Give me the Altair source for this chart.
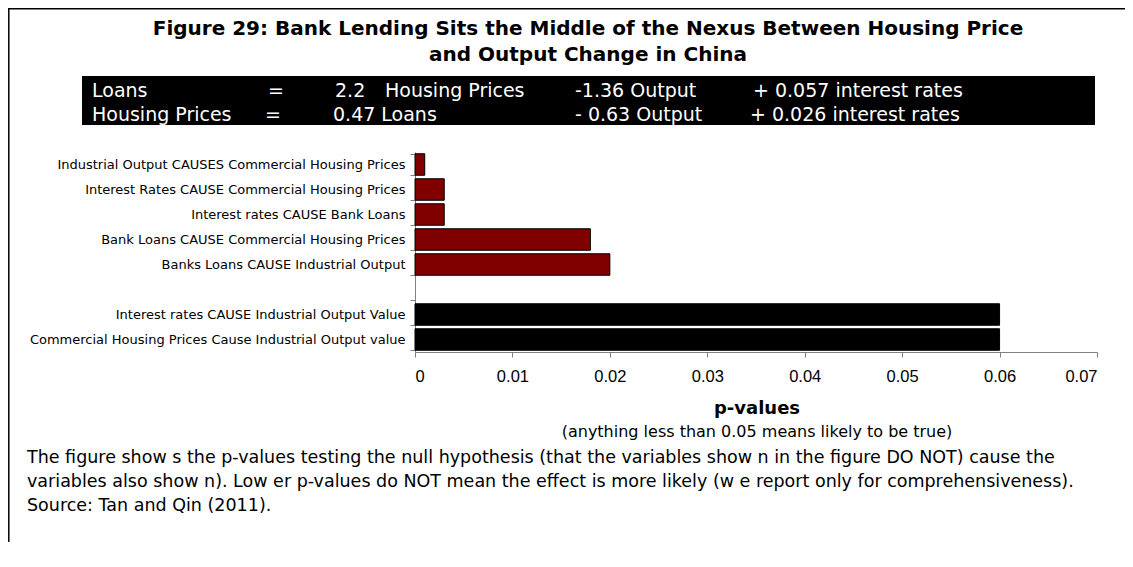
import altair as alt
import pandas as pd

FONT = "DejaVu Sans"
TICK_FONT = "Liberation Sans"

# ---- data ----
categories = [
    "Industrial Output CAUSES Commercial Housing Prices",
    "Interest Rates CAUSE Commercial Housing Prices",
    "Interest rates CAUSE Bank Loans",
    "Bank Loans CAUSE Commercial Housing Prices",
    "Banks Loans CAUSE Industrial Output",
    "Interest rates CAUSE Industrial Output Value",
    "Commercial Housing Prices Cause Industrial Output value",
]
p_values = [0.001, 0.003, 0.003, 0.018, 0.020, 0.060, 0.060]
groups = ["significant"] * 5 + ["not significant"] * 2
axis_order = categories[:5] + [""] + categories[5:]
x_ticks = [0, 0.01, 0.02, 0.03, 0.04, 0.05, 0.06, 0.07]

title_lines = [
    "Figure 29: Bank Lending Sits the Middle of the Nexus Between Housing Price",
    "and Output Change in China",
]
eq_row1 = ["Loans", "=", "2.2", "Housing Prices", "-1.36 Output", "+ 0.057 interest rates"]
eq_row2 = ["Housing Prices", "=", "0.47 Loans", "", "- 0.63 Output", "+ 0.026 interest rates"]
x_title = "p-values"
x_subtitle = "(anything less than 0.05 means likely to be true)"
footer_lines = [
    "The figure show s the p-values testing the null hypothesis (that the variables show n in the figure DO NOT) cause the",
    "variables also show n).  Low er p-values do NOT mean the effect is more likely (w e report only for comprehensiveness).",
    "Source: Tan and Qin (2011).",
]

df = pd.DataFrame({"cat": categories, "p": p_values, "group": groups})

# ---- layout (page px -> plot coords) ----
PL, PT = 407, 144
W, H = 682, 200
TOTAL_W = 1117
PB = 190


def X(px):
    return px - 8 - PL


def Y(py):
    return py - 8 - PT


one = alt.Data(values=[{"a": 1}])


def text_layer(s, px, py, size, weight="normal", align="left", color="black", font=FONT):
    return alt.Chart(one).mark_text(
        text=s, align=align, baseline="alphabetic", fontSize=size,
        fontWeight=weight, font=font, color=color
    ).encode(x=alt.value(X(px)), y=alt.value(Y(py)))


bars = alt.Chart(df).mark_bar(stroke="black", strokeWidth=1).encode(
    x=alt.X(
        "p:Q",
        scale=alt.Scale(domain=[0, 0.07], nice=False),
        axis=alt.Axis(values=x_ticks, format="~g", title=None, grid=False,
                      labelFontSize=16.5, labelPadding=11, tickSize=5,
                      domainColor="#808080", tickColor="#808080",
                      labelColor="black", labelFont=TICK_FONT),
    ),
    y=alt.Y(
        "cat:N",
        sort=None,
        scale=alt.Scale(domain=axis_order, paddingInner=0.14, paddingOuter=0.07),
        axis=alt.Axis(title=None, tickBand="extent", grid=False, labelFontSize=13,
                      labelPadding=5, tickSize=5, labelLimit=500,
                      domainColor="#808080", tickColor="#808080",
                      labelColor="black", labelFont=FONT),
    ),
    color=alt.Color(
        "group:N",
        scale=alt.Scale(domain=["significant", "not significant"], range=["#800000", "#000000"]),
        legend=None,
    ),
)

frame_top = alt.Chart(one).mark_rule(color="black", strokeWidth=1.5).encode(
    x=alt.value(X(8)), x2=alt.value(X(8 + TOTAL_W)), y=alt.value(Y(8.8))
)
frame_left = alt.Chart(one).mark_rule(color="black", strokeWidth=1.5).encode(
    x=alt.value(X(8.8)), y=alt.value(Y(8)), y2=alt.value(Y(600))
)
box = alt.Chart(one).mark_rect(color="black").encode(
    x=alt.value(X(82)), x2=alt.value(X(1095)), y=alt.value(Y(76)), y2=alt.value(Y(125))
)

layers = [frame_top, frame_left, box, bars]
layers.append(text_layer(title_lines[0], 588, 35, 20, "bold", "center"))
layers.append(text_layer(title_lines[1], 588, 61, 20, "bold", "center"))

row1_x = [92, 268, 335, 385, 575, 753]
row2_x = [92, 265, 333, 0, 575, 750]
for s, px in zip(eq_row1, row1_x):
    if s:
        layers.append(text_layer(s, px, 97, 19, color="white"))
for s, px in zip(eq_row2, row2_x):
    if s:
        layers.append(text_layer(s, px, 121, 19, color="white"))

layers.append(text_layer(x_title, 757, 414, 18, "bold", "center"))
layers.append(text_layer(x_subtitle, 757, 437, 16, "normal", "center"))
for s, py in zip(footer_lines, [463, 487, 511]):
    layers.append(text_layer(s, 27, py, 17.5))

chart = alt.layer(*layers).properties(
    width=W, height=H,
    autosize=alt.AutoSizeParams(type="none"),
    padding={"left": PL, "top": PT, "right": TOTAL_W - PL - W, "bottom": PB},
    background="white",
).configure_view(stroke=None)

chart.save("out.html", embed_options={"renderer": "svg", "actions": False})
